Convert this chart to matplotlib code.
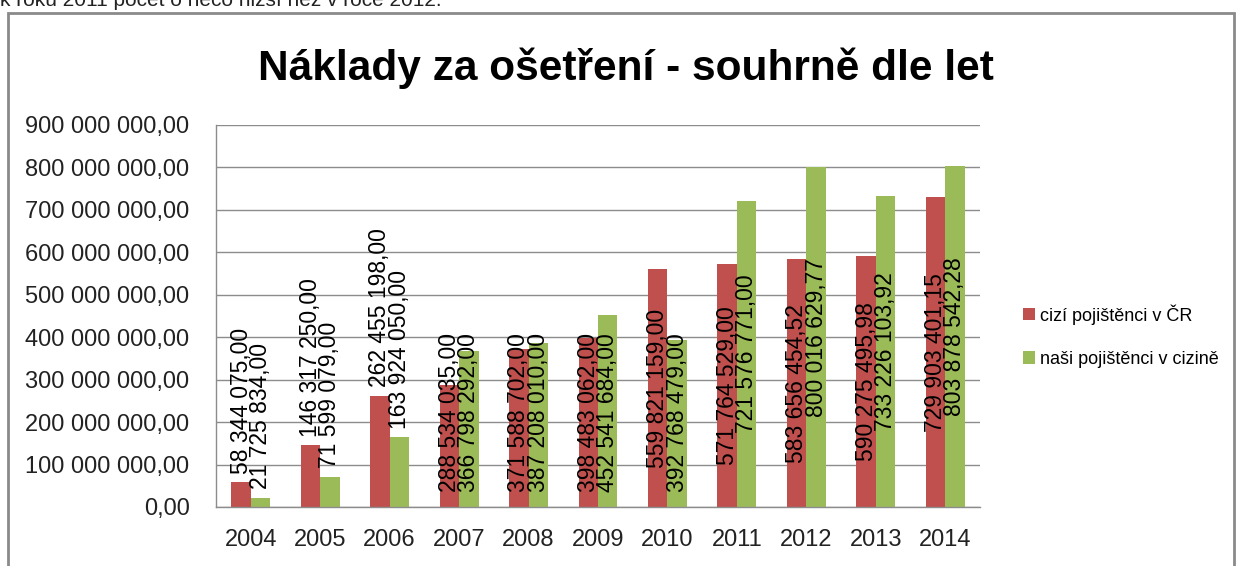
import matplotlib
matplotlib.use("Agg")
import matplotlib.pyplot as plt
from matplotlib.patches import Rectangle
import numpy as np

plt.rcParams['font.family'] = ['Liberation Sans', 'DejaVu Sans']

# data
roky = ['2004', '2005', '2006', '2007', '2008', '2009', '2010', '2011', '2012', '2013', '2014']
cizi_v_cr = [58344075.00, 146317250.00, 262455198.00, 288534035.00, 371588702.00, 398483062.00,
             559821159.00, 571764529.00, 583656454.52, 590275495.98, 729903401.15]
nasi_v_cizine = [21725834.00, 71599079.00, 163924050.00, 366798292.00, 387208010.00, 452541684.00,
                 392768479.00, 721576771.00, 800016629.77, 733226103.92, 803878542.28]
serie_nazvy = ['cizí pojištěnci v ČR', 'naši pojištěnci v cizině']
titulek = 'Náklady za ošetření - souhrně dle let'
horni_text = 'k roku 2011 počet o něco nižší než v roce 2012.'

RED = '#C0504D'
GREEN = '#9BBB59'
GRID = '#8c8c8c'

W, H = 1238, 566
fig = plt.figure(figsize=(W / 100, H / 100), dpi=100)


def fmt(v):
    return f'{v:,.2f}'.replace(',', ' ').replace('.', ',')


# text cut off above the chart (partly visible, as in the source)
fig.text(0.0, 1 - 1 / H, horni_text, fontsize=15, va='center', ha='left', color='#222222')

# chart frame
fig.patches.append(Rectangle((8 / W, -0.05), (1234 - 8) / W, 1.05 - 13 / H, transform=fig.transFigure,
                             fill=False, edgecolor='#8a8a8a', linewidth=2))

ax = fig.add_axes([216 / W, 1 - 507 / H, (980 - 216) / W, (507 - 125) / H])
x = np.arange(len(roky))
bw = 0.28
b1 = ax.bar(x - bw / 2, cizi_v_cr, bw, color=RED, label=serie_nazvy[0], zorder=2)
b2 = ax.bar(x + bw / 2, nasi_v_cizine, bw, color=GREEN, label=serie_nazvy[1], zorder=2)

ax.set_xlim(-0.5, len(roky) - 0.5)
ax.set_ylim(0, 900e6)
ax.set_yticks(np.arange(0, 900e6 + 1, 100e6))
ax.set_yticklabels([fmt(v) for v in ax.get_yticks()])
ax.set_xticks(x)
ax.set_xticklabels(roky)
ax.tick_params(axis='y', length=0, pad=19, labelsize=17, labelcolor='#222222')
ax.tick_params(axis='x', length=0, pad=16, labelsize=17, labelcolor='#222222')
ax.yaxis.grid(True, color=GRID, linewidth=1, zorder=0)
for s in ['top', 'right']:
    ax.spines[s].set_visible(False)
for s in ['left', 'bottom']:
    ax.spines[s].set_color(GRID)
    ax.spines[s].set_linewidth(1)

# data labels (rotated, Excel-like placement)
lab_fs = 16.5
label_len = 393e6   # label length in data units
min_bottom = 35e6
outside_limit = 275e6
for bars, vals in [(b1, cizi_v_cr), (b2, nasi_v_cizine)]:
    for r, v in zip(bars, vals):
        cx = r.get_x() + r.get_width() / 2
        if v < outside_limit:
            ax.annotate(fmt(v), (cx, v), xytext=(0, 6), textcoords='offset points',
                        rotation=90, ha='center', va='bottom', fontsize=lab_fs, zorder=3)
        else:
            bottom = max(v / 2 - label_len / 2, min_bottom)
            if bottom > min_bottom:
                ax.text(cx, v / 2, fmt(v), rotation=90, ha='center', va='center', fontsize=lab_fs, zorder=3)
            else:
                ax.text(cx, min_bottom, fmt(v), rotation=90, ha='center', va='bottom', fontsize=lab_fs, zorder=3)

fig.text(626 / W, 1 - 68 / H, titulek, fontsize=30.5, fontweight='bold', ha='center', va='center')

leg = fig.legend(handles=[b1, b2], labels=serie_nazvy, loc='center left',
                 bbox_to_anchor=(1007 / W, 1 - 336 / H), frameon=False, fontsize=13,
                 handlelength=0.65, handleheight=0.65, handletextpad=0.3, labelspacing=1.45)

fig.savefig('out.png', dpi=100)
